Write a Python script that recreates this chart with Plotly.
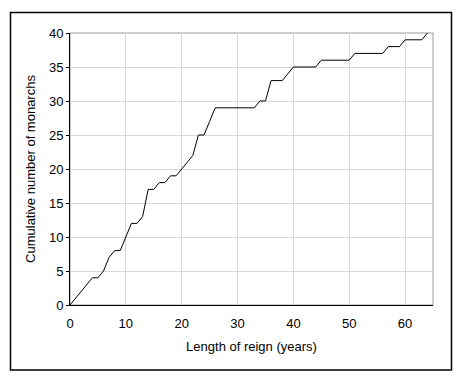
import plotly.graph_objects as go

years = list(range(0, 65))
cumulative = [0, 1, 2, 3, 4, 4, 5, 7, 8, 8,
              10, 12, 12, 13, 17, 17, 18, 18, 19, 19,
              20, 21, 22, 25, 25, 27, 29, 29, 29, 29,
              29, 29, 29, 29, 30, 30, 33, 33, 33, 34,
              35, 35, 35, 35, 35, 36, 36, 36, 36, 36,
              36, 37, 37, 37, 37, 37, 37, 38, 38, 38,
              39, 39, 39, 39, 40]
x_ticks = [0, 10, 20, 30, 40, 50, 60]
y_ticks = [0, 5, 10, 15, 20, 25, 30, 35, 40]

W, H = 458, 380
L, R, T, B = 70, 25, 33, 75
pw, ph = W - L - R, H - T - B

fig = go.Figure()
fig.add_trace(go.Scatter(x=years, y=cumulative, mode="lines",
                         line=dict(color="black", width=1), showlegend=False,
                         hoverinfo="skip"))

font = dict(family="Liberation Sans, Arial, sans-serif", size=13, color="black")

fig.update_layout(
    width=W, height=H,
    margin=dict(l=L, r=R, t=T, b=B),
    paper_bgcolor="white", plot_bgcolor="white",
    font=font,
    xaxis=dict(range=[0, 65], tickvals=x_ticks, showgrid=True, gridcolor="#d8d8d8",
               gridwidth=1, showline=True, linecolor="black", linewidth=1,
               ticks="outside", ticklen=6, tickcolor="rgba(0,0,0,0)", zeroline=False,
               title=dict(text="Length of reign (years)", font=font, standoff=12)),
    yaxis=dict(range=[0, 40], tickvals=y_ticks, showgrid=True, gridcolor="#d8d8d8",
               gridwidth=1, showline=True, linecolor="black", linewidth=1,
               ticks="outside", ticklen=3, tickcolor="black", zeroline=False,
               title=dict(text="Cumulative number of monarchs", font=font, standoff=10)),
)

# gray plot-area border (top/right)
fig.add_shape(type="rect", xref="x domain", yref="y domain", x0=0, x1=1, y0=0, y1=1,
              line=dict(color="#9a9a9a", width=1), layer="below")

# outer frame
fx0 = (10.5 - L) / pw
fx1 = (451.5 - L) / pw
fy0 = ((H - B) - 370) / ph
fy1 = ((H - B) - 12.5) / ph
fig.add_shape(type="rect", xref="paper", yref="paper", x0=fx0, x1=fx1, y0=fy0, y1=fy1,
              line=dict(color="black", width=1.5))

fig.write_html("out.html", config={"displayModeBar": False},
               post_script="document.body.style.margin='0px';")
